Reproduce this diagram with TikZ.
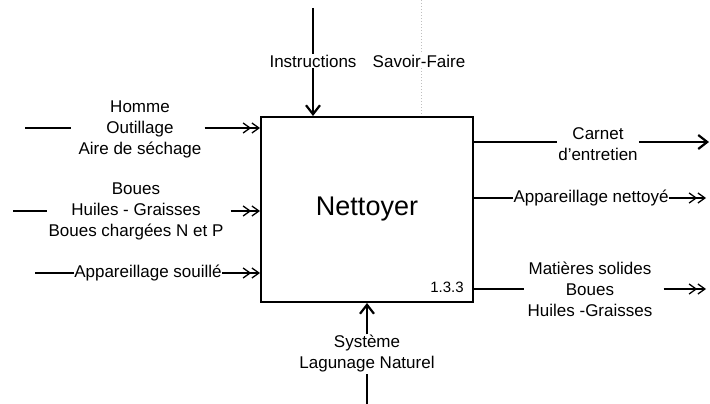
\documentclass[tikz,border=0pt]{standalone}
\usepackage{fontspec}
\setmainfont{Liberation Sans}
\usetikzlibrary{arrows.meta}

\begin{document}
\begin{tikzpicture}[x=1pt,y=-1pt,
  lbl/.style={align=center,font=\fontsize{17}{21}\selectfont,inner sep=1pt},
  flow/.style={line width=1.3pt},
  inarrow/.style={flow,-{Straight Barb[length=7pt,width=10pt]Straight Barb[length=7pt,width=10pt]}},
  outarrow/.style={line width=2.2pt,-{Straight Barb[length=9pt,width=14pt]}}]
\useasboundingbox (0,0) rectangle (710,404);
\node[draw,line width=2pt,minimum width=212pt,minimum height=185pt,font=\fontsize{27}{32}\selectfont] (act) at (367,209.5) {Nettoyer};
\node[font=\fontsize{15}{18}\selectfont,inner sep=0pt] (num) at (447,287) {1.3.3};
% inputs
\node[lbl] (in1) at (140,129) {Homme\\Outillage\\Aire de séchage};
\coordinate (in1s) at (25,128);
\draw[flow,shorten >=6pt] (in1s) -- (in1.west |- in1s);
\draw[inarrow,shorten <=2pt] (in1.east |- in1s) -- (act.west |- in1s);
\node[lbl] (in2) at (136,211) {Boues\\Huiles - Graisses\\Boues chargées N et P};
\coordinate (in2s) at (13,211);
\draw[flow] (in2s) -- (in2.west |- in2s);
\draw[inarrow,shorten <=6pt] (in2.east |- in2s) -- (act.west |- in2s);
\node[lbl,inner sep=0pt] (in3) at (148,273) {Appareillage souillé};
\coordinate (in3s) at (35,273);
\draw[flow] (in3s) -- (in3.west);
\draw[inarrow] (in3.east) -- (act.west |- in3);
% controls
\node[lbl] (ctrl1) at (313,61) {Instructions};
\coordinate (ctrl1s) at (313,8);
\draw[line width=2.2pt] (ctrl1s) -- (ctrl1.north);
\draw[outarrow] (ctrl1.south) -- (ctrl1 |- act.north);
\node[lbl] (ctrl2) at (419,61) {Savoir-Faire};
\coordinate (ctrl2s) at (421,0);
\draw[black!25,dotted,line width=1pt] (ctrl2s) -- (ctrl2s |- ctrl2.north);
\draw[black!25,dotted,line width=1pt] (ctrl2s |- ctrl2.south) -- (ctrl2s |- act.north);
% outputs
\node[lbl] (out1) at (598,144) {Carnet\\d'entretien};
\coordinate (out1e) at (709,142);
\draw[line width=1.6pt] (act.east |- out1e) -- (out1.west |- out1e);
\draw[outarrow] (out1.east |- out1e) -- (out1e);
\node[lbl,inner sep=0pt] (out2) at (591,198) {Appareillage nettoyé};
\coordinate (out2e) at (706,198);
\draw[flow] (act.east |- out2) -- (out2.west);
\draw[inarrow] (out2.east) -- (out2e);
\node[lbl] (out3) at (590,289) {Matières solides\\Boues\\Huiles -Graisses};
\coordinate (out3e) at (706,289);
\draw[flow,shorten >=2pt] (act.east |- out3e) -- (out3.west |- out3e);
\draw[inarrow,shorten <=10pt] (out3.east |- out3e) -- (out3e);
% mechanism
\node[lbl] (mech) at (367,354) {Système\\Lagunage Naturel};
\coordinate (mechs) at (367,404);
\draw[line width=2.2pt] (mechs) -- (mech.south);
\draw[outarrow] (mech.north) -- (act.south);
\end{tikzpicture}
\end{document}
